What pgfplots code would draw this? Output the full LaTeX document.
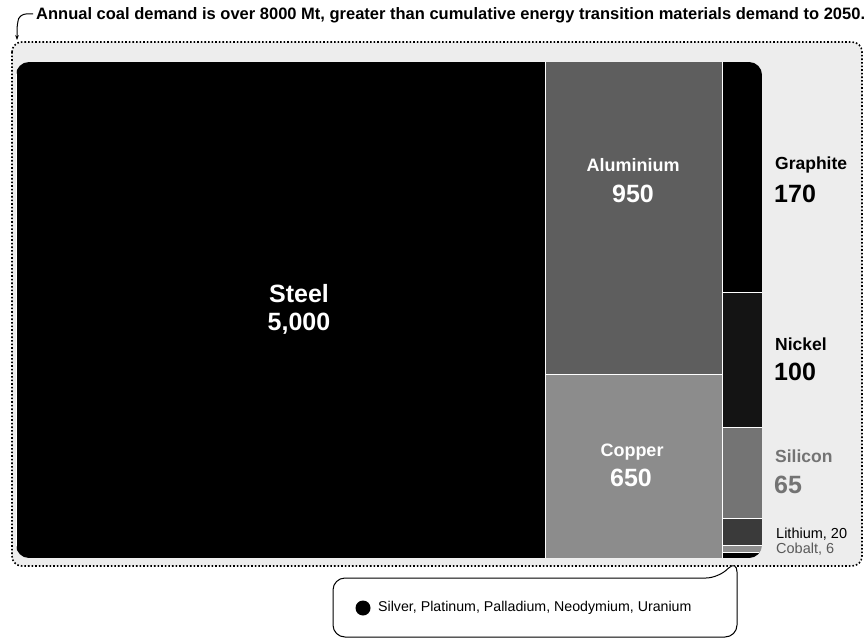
\documentclass[border=0pt]{standalone}
\usepackage{pgfplots}
\pgfplotsset{compat=1.18}
\usepackage{fontspec}
\setmainfont{Liberation Sans}
\usetikzlibrary{arrows.meta}

\definecolor{alum}{HTML}{5E5E5E}
\definecolor{copper}{HTML}{8C8C8C}
\definecolor{silicon}{HTML}{747474}
\definecolor{lithium}{HTML}{3A3A3A}
\definecolor{cobalt}{HTML}{8E8E8E}
\definecolor{bgfill}{HTML}{EDEDED}

\begin{document}
\begin{tikzpicture}
\begin{axis}[
    scale only axis,
    width=867pt, height=639pt,
    xmin=0, xmax=867, ymin=0, ymax=639,
    y dir=reverse,
    hide axis,
    clip=false,
]
% dotted frame round the whole chart
\draw[fill=bgfill, draw=black, line width=1.6pt, dotted, rounded corners=10pt]
    (axis cs:12,42) rectangle (axis cs:862,566);
\draw[white, line width=0pt] (axis cs:0,0) rectangle (axis cs:867,639);

% title and its arrow
\draw[-{Stealth[length=5pt]}, line width=1pt, rounded corners=6pt]
    (axis cs:33,14) -- (axis cs:20,14) -- (axis cs:17,24) -- (axis cs:17,40);
\node[anchor=west, font=\bfseries\fontsize{16.5}{18}\selectfont, inner sep=0pt]
    at (axis cs:36,15) {Annual coal demand is over 8000 Mt, greater than cumulative energy transition materials demand to 2050.};

% treemap: value rectangles
\begin{scope}
\clip[rounded corners=13pt] (axis cs:16,62) rectangle (axis cs:762,558);
% Steel 5000
\addplot[fill=black, draw=white, line width=1pt] coordinates {(16,62) (545,62) (545,558) (16,558)} -- cycle;
% Aluminium 950
\addplot[fill=alum, draw=white, line width=1pt] coordinates {(545,62) (722,62) (722,374) (545,374)} -- cycle;
% Copper 650
\addplot[fill=copper, draw=white, line width=1pt] coordinates {(545,374) (722,374) (722,558) (545,558)} -- cycle;
% Graphite 170
\addplot[fill=black, draw=white, line width=1pt] coordinates {(722,62) (762,62) (762,292) (722,292)} -- cycle;
% Nickel 100
\addplot[fill=black!92, draw=white, line width=1pt] coordinates {(722,292) (762,292) (762,427) (722,427)} -- cycle;
% Silicon 65
\addplot[fill=silicon, draw=white, line width=1pt] coordinates {(722,427) (762,427) (762,518) (722,518)} -- cycle;
% Lithium 20
\addplot[fill=lithium, draw=white, line width=1pt] coordinates {(722,518) (762,518) (762,545) (722,545)} -- cycle;
% Cobalt 6
\addplot[fill=cobalt, draw=white, line width=1pt] coordinates {(722,545) (762,545) (762,552) (722,552)} -- cycle;
% Silver, Platinum, Palladium, Neodymium, Uranium
\addplot[fill=black, draw=white, line width=0.6pt] coordinates {(722,552) (762,552) (762,558) (722,558)} -- cycle;
\end{scope}

% labels inside boxes
\node[text=white, font=\bfseries\fontsize{25}{28}\selectfont] at (axis cs:299,294) {Steel};
\node[text=white, font=\bfseries\fontsize{25}{28}\selectfont] at (axis cs:299,324) {5,000};
\node[text=white, font=\bfseries\fontsize{18}{21}\selectfont] at (axis cs:633,165) {Aluminium};
\node[text=white, font=\bfseries\fontsize{25}{28}\selectfont] at (axis cs:633,194) {950};
\node[text=white, font=\bfseries\fontsize{18}{21}\selectfont] at (axis cs:632,452) {Copper};
\node[text=white, font=\bfseries\fontsize{25}{28}\selectfont] at (axis cs:631,478) {650};

% labels beside the last column
\node[anchor=west, inner sep=0pt, font=\bfseries\fontsize{17.5}{20}\selectfont] at (axis cs:775,165) {Graphite};
\node[anchor=west, inner sep=0pt, font=\bfseries\fontsize{25}{28}\selectfont] at (axis cs:774,194) {170};
\node[anchor=west, inner sep=0pt, font=\bfseries\fontsize{17.5}{20}\selectfont] at (axis cs:775,344) {Nickel};
\node[anchor=west, inner sep=0pt, font=\bfseries\fontsize{25}{28}\selectfont] at (axis cs:774,372) {100};
\node[anchor=west, inner sep=0pt, text=black!55, font=\bfseries\fontsize{17.5}{20}\selectfont] at (axis cs:775,456) {Silicon};
\node[anchor=west, inner sep=0pt, text=black!55, font=\bfseries\fontsize{25}{28}\selectfont] at (axis cs:774,485) {65};
\node[anchor=west, inner sep=0pt, font=\fontsize{14.5}{16}\selectfont] at (axis cs:776,534) {Lithium, 20};
\node[anchor=west, inner sep=0pt, text=black!65, font=\fontsize{14.5}{16}\selectfont] at (axis cs:776,549) {Cobalt, 6};

% callout for the smallest materials
\draw[fill=white, line width=1pt, rounded corners=12pt]
    (axis cs:737,560) -- (axis cs:737,637) -- (axis cs:333,637) -- (axis cs:333,578) -- (axis cs:718,578) -- cycle;
\fill[black] (axis cs:363,608) circle[radius=7.5pt];
\node[anchor=west, inner sep=0pt, font=\fontsize{14.2}{16}\selectfont] at (axis cs:378,608) {Silver, Platinum, Palladium, Neodymium, Uranium};
\end{axis}
\end{tikzpicture}
\end{document}
